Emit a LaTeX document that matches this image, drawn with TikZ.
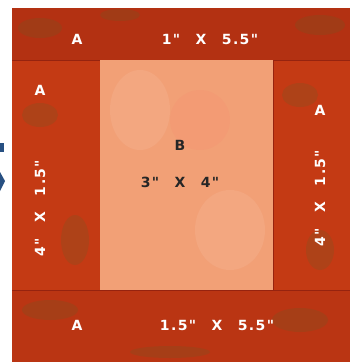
\documentclass[tikz,border=0pt]{standalone}
\usepackage{fontspec}
\newfontfamily\labfont{DejaVu Sans}[LetterSpace=10]
\definecolor{quiltred}{RGB}{196,58,20}
\definecolor{quiltdark}{RGB}{150,35,15}
\definecolor{quiltpeach}{RGB}{242,160,118}
\definecolor{quiltgreen}{RGB}{90,100,40}
\definecolor{arrowblue}{RGB}{40,80,130}
\newcommand{\gp}{\hspace{1.1em}}
\begin{document}
\begin{tikzpicture}[x=1pt,y=-1pt,
  redpiece/.style={fill=quiltred, draw=none},
  peach/.style={fill=quiltpeach, draw=none},
  wlab/.style={text=white, font=\labfont\bfseries\fontsize{14}{16}\selectfont, inner sep=0pt},
  blab/.style={text=black!85, font=\labfont\bfseries\fontsize{14}{16}\selectfont, inner sep=0pt},
  blob/.style={fill=quiltgreen, opacity=0.2, draw=none}]
\useasboundingbox (0,0) rectangle (350,362);
\fill[white] (0,0) rectangle (350,362);
% arrow fragment
\fill[arrowblue] (0,143) rectangle (4,152);
\fill[arrowblue] (0,172) -- (5,181) -- (0,191) -- cycle;
% pieces
\path[redpiece] (12,8) rectangle (350,362);
\fill[quiltdark, opacity=0.35] (12,8) rectangle (350,60);
\fill[quiltdark, opacity=0.2] (12,290) rectangle (350,362);
% mottling
\fill[blob] (40,28) ellipse (22 and 10);
\fill[blob] (120,15) ellipse (20 and 6);
\fill[blob] (320,25) ellipse (25 and 10);
\fill[blob] (40,115) ellipse (18 and 12);
\fill[blob] (75,240) ellipse (14 and 25);
\fill[blob] (300,95) ellipse (18 and 12);
\fill[blob] (320,250) ellipse (14 and 20);
\fill[blob] (50,310) ellipse (28 and 10);
\fill[blob] (300,320) ellipse (28 and 12);
\fill[blob] (170,352) ellipse (40 and 6);
% seams
\draw[quiltdark, line width=0.6] (12,60) -- (350,60) (12,290) -- (350,290)
  (100,60) -- (100,290) (273,60) -- (273,290);
\fill[peach] (100,60) rectangle (273,290);
\fill[white, opacity=0.08] (140,110) ellipse (30 and 40);
\fill[white, opacity=0.08] (230,230) ellipse (35 and 40);
\fill[red!60, opacity=0.08] (200,120) ellipse (30 and 30);
% labels
\node[wlab] (ta) at (77,39) {A};
\node[wlab] (tt) at (210,39) {1"\gp X\gp 5.5"};
\node[wlab] (la) at (40,90) {A};
\node[wlab, rotate=90] (lt) at (40,208) {4"\gp X\gp 1.5"};
\node[wlab] (ra) at (320,110) {A};
\node[wlab, rotate=90] (rt) at (320,198) {4"\gp X\gp 1.5"};
\node[blab] (cb) at (180,145) {B};
\node[blab] (ct) at (180,182) {3"\gp X\gp 4"};
\node[wlab] (ba) at (77,325) {A};
\node[wlab] (bt) at (217,325) {1.5"\gp X\gp 5.5"};
\end{tikzpicture}
\end{document}
